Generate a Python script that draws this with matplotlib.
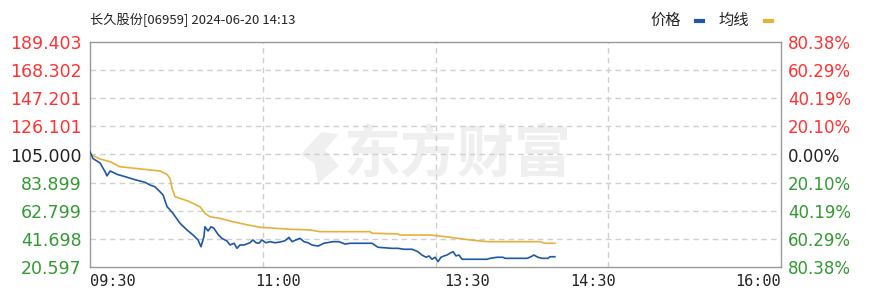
import matplotlib
matplotlib.use("Agg")
import matplotlib.pyplot as plt
from matplotlib.patches import Polygon

plt.rcParams['font.family'] = ['DejaVu Sans', 'Noto Sans CJK SC']

# ---------------- data ----------------
title_text = "长久股份[06959] 2024-06-20 14:13"
prev_close = 105.000
y_ticks = [20.597, 41.698, 62.799, 83.899, 105.000, 126.101, 147.201, 168.302, 189.403]
pct_labels = ["80.38%", "60.29%", "40.19%", "20.10%", "0.00%", "20.10%", "40.19%", "60.29%", "80.38%"]
time_labels = ["09:30", "11:00", "13:30", "14:30", "16:00"]
time_label_minutes = [0, 90, 180, 240, 330]
total_minutes = 330

price_minutes = [0, 1.4, 4.8, 7.2, 8.1, 9.6, 11, 12.9, 16.7, 21.5, 26.3, 28.7, 31, 33.4, 34.9, 36.8,
                 39.6, 43, 46.3, 49.2, 51.6, 53, 54.4, 54.9, 56.4, 57.8, 59.2, 61.1, 63, 65.4, 66.9,
                 68.8, 70.2, 71.6, 73.5, 76.4, 77.8, 79.3, 80.7, 82.1, 84, 86, 88.3, 90.7, 93.1, 95,
                 96.5, 98.4, 100.3, 102.2, 104.1, 106, 108.9, 111.7, 116, 118.9, 121.8, 124.2, 134.7,
                 137.5, 144.2, 147.1, 150, 153.8, 156.6, 158.5, 160.5, 161.9, 163.3, 164.8, 166.2,
                 167.6, 169.1, 170.5, 171.9, 173.4, 174.8, 176.2, 177.7, 182.4, 189.6, 191, 194.4,
                 197.2, 198.2, 208.7, 210.6, 212, 213.9, 215.9, 218.7, 219.7, 222]
price_values = [107.0, 102.0, 98.6, 92.1, 89.0, 92.6, 91.6, 90.1, 88.4, 86.1, 84.1, 82.1, 80.8, 77.1, 74.6, 65.9,
                60.9, 53.4, 48.4, 44.6, 40.9, 35.8, 43.3, 50.8, 47.6, 50.8, 49.6, 45.1, 42.1, 40.1, 37.1,
                38.4, 34.6, 37.1, 37.1, 38.8, 40.9, 38.8, 38.4, 40.9, 38.8, 39.6, 38.8, 39.3, 40.3, 42.8,
                39.6, 40.9, 42.1, 39.6, 38.8, 37.1, 36.3, 38.4, 39.6, 39.6, 37.8, 38.4, 38.4,
                35.4, 34.6, 34.6, 33.9, 33.9, 32.1, 29.6, 27.9, 28.9, 26.4, 27.9, 24.6,
                27.9, 28.9, 29.6, 30.9, 32.1, 28.9, 29.6, 26.4, 26.4, 26.4, 27.1, 27.9,
                27.9, 27.1, 27.1, 28.3, 29.6, 27.9, 27.1, 27.1, 28.3, 28.3]

avg_minutes = [0, 2.4, 4.8, 9.6, 14.3, 21.5, 28.7, 33.4, 36.8, 38.2, 39.2, 40.6, 43, 46.8, 50.1, 52.5,
               54.9, 57.3, 62.1, 66.9, 71.6, 75.5, 81.2, 95.5, 105.1, 109.8, 133.7, 134.7, 147.1, 148,
               162.4, 171.9, 181.5, 190.1, 214.9, 217.3, 222]
avg_values = [105.5, 103.4, 101.6, 99.6, 95.8, 94.6, 93.4, 92.6, 90.1, 87.1, 79.6, 73.3, 72.1, 70.1, 67.6, 65.8,
              60.9, 58.3, 57.1, 55.1, 53.4, 52.1, 50.4, 48.9, 48.4, 47.1, 47.1, 45.9, 45.4, 44.6,
              44.6, 42.9, 40.9, 39.6, 39.6, 38.4, 38.4]

# ---------------- style ----------------
RED = "#ff3333"
GREEN = "#339933"
DARK = "#222222"
BLUE = "#1f57a8"
ORANGE = "#e6b13a"
GRID = "#cfcfcf"
SPINE = "#999999"
WM = "#efefef"

fig = plt.figure(figsize=(8.74, 2.97), dpi=100)
ax = fig.add_axes([90 / 874, 30 / 297, 691 / 874, 225 / 297])
ax.set_xlim(0, total_minutes)
ax.set_ylim(y_ticks[0], y_ticks[-1])

# grid
for v in y_ticks[1:-1]:
    ax.axhline(v, color=GRID, lw=1, ls=(0, (4, 3)), zorder=1)
for q in [0.25, 0.5, 0.75]:
    ax.axvline(total_minutes * q, color=GRID, lw=1, ls=(0, (4, 3)), zorder=1)

for s in ax.spines.values():
    s.set_color(SPINE)
    s.set_linewidth(1)

# watermark
ax.text(0.532, 0.50, "东方财富", transform=ax.transAxes, fontsize=41, fontweight='bold',
        color=WM, ha='center', va='center', family=['Noto Sans CJK SC'], zorder=0)
logo = Polygon([[0.305, 0.50], [0.335, 0.60], [0.36, 0.59], [0.34, 0.52], [0.36, 0.45],
                [0.33, 0.37], [0.325, 0.46]], closed=True, transform=ax.transAxes,
               facecolor=WM, edgecolor='none', zorder=0)
ax.add_patch(logo)

# lines
ax.plot(avg_minutes, avg_values, color=ORANGE, lw=1.2, zorder=3)
ax.plot(price_minutes, price_values, color=BLUE, lw=1.2, zorder=4)

# y labels left
ax.set_yticks(y_ticks)
ax.set_yticklabels([f"{v:.3f}" for v in y_ticks])
ax.tick_params(axis='y', length=0, pad=6, labelsize=12.5)
for lab, v in zip(ax.get_yticklabels(), y_ticks):
    lab.set_color(RED if v > prev_close + 1e-6 else (GREEN if v < prev_close - 1e-6 else DARK))

# right labels
ax2 = ax.twinx()
ax2.set_ylim(ax.get_ylim())
ax2.set_yticks(y_ticks)
ax2.set_yticklabels(pct_labels)
ax2.tick_params(axis='y', length=0, pad=5, labelsize=12)
for lab, v in zip(ax2.get_yticklabels(), y_ticks):
    lab.set_color(RED if v > prev_close + 1e-6 else (GREEN if v < prev_close - 1e-6 else DARK))
for s in ax2.spines.values():
    s.set_visible(False)

# x labels
ax.set_xticks(time_label_minutes)
ax.set_xticklabels(time_labels, family='DejaVu Sans Mono', fontsize=11, color=DARK)
ax.tick_params(axis='x', length=0, pad=5)
xl = ax.get_xticklabels()
xl[0].set_ha('left')
xl[-1].set_ha('right')

# title & legend
fig.text(90 / 874, 1 - 20 / 297, title_text, fontsize=9.5, color=DARK, ha='left', va='center',
         family=['Noto Sans CJK SC'])
fig.text(650 / 874, 1 - 20 / 297, "价格", fontsize=11, color=DARK, ha='left', va='center',
         family=['Noto Sans CJK SC'])
fig.text(718 / 874, 1 - 20 / 297, "均线", fontsize=11, color=DARK, ha='left', va='center',
         family=['Noto Sans CJK SC'])
fig.add_artist(plt.Line2D([696 / 874, 703 / 874], [1 - 21 / 297] * 2, color=BLUE, lw=3))
fig.add_artist(plt.Line2D([765 / 874, 772 / 874], [1 - 21 / 297] * 2, color=ORANGE, lw=3))

fig.savefig("out.png", dpi=100)
